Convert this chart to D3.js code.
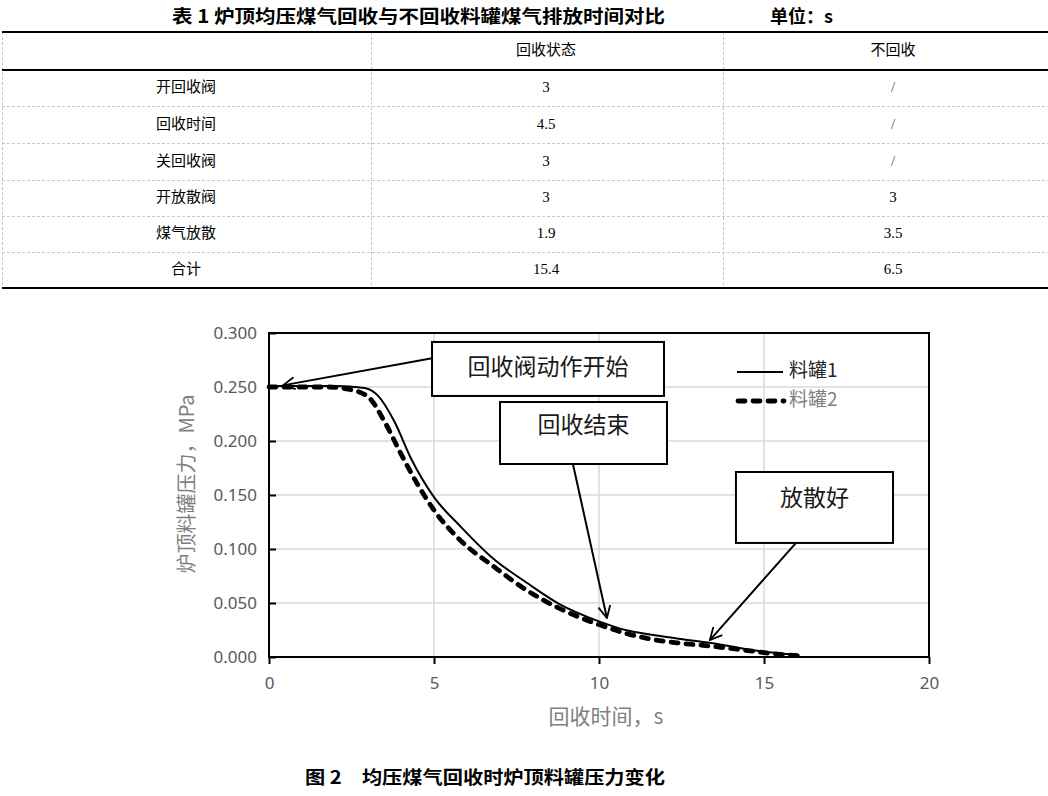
<!DOCTYPE html>
<html><head><meta charset="utf-8">
<script src="https://cdn.jsdelivr.net/npm/d3@7/dist/d3.min.js"></script>
<style>
html,body{margin:0;padding:0;background:#fff;}
svg{display:block;}
</style></head>
<body>
<script>
// ---------- Table data ----------
const tableTitle = "表 1  炉顶均压煤气回收与不回收料罐煤气排放时间对比";
const tableUnit = "单位：s";
const tableHeaders = ["", "回收状态", "不回收"];
const rowLabels = ["开回收阀", "回收时间", "关回收阀", "开放散阀", "煤气放散", "合计"];
const recoverVals = ["3", "4.5", "3", "3", "1.9", "15.4"];
const noRecoverVals = ["/", "/", "/", "3", "3.5", "6.5"];

// ---------- Chart data ----------
const xTicks = [0, 5, 10, 15, 20];
const yTicks = [0, 0.05, 0.1, 0.15, 0.2, 0.25, 0.3];
const seriesNames = ["料罐1", "料罐2"];
const t1 = [0, 1, 2, 2.6, 2.9, 3.3, 3.8, 4.3, 5.0, 5.8, 6.8, 7.8, 8.8, 10.0, 10.8, 11.5, 12.4, 13.4, 14.5, 15.3, 16.0];
const p1 = [0.251, 0.251, 0.251, 0.250, 0.249, 0.242, 0.218, 0.184, 0.148, 0.121, 0.091, 0.069, 0.049, 0.033, 0.025, 0.021, 0.017, 0.013, 0.007, 0.004, 0.002];
const t2 = [0, 1, 1.8, 2.4, 3.0, 3.5, 4.0, 4.5, 5.0, 5.8, 6.8, 7.8, 8.8, 10.0, 10.8, 11.5, 12.4, 13.4, 14.5, 15.3, 16.1];
const p2 = [0.250, 0.250, 0.250, 0.248, 0.241, 0.218, 0.188, 0.160, 0.136, 0.108, 0.084, 0.062, 0.045, 0.030, 0.022, 0.017, 0.013, 0.010, 0.006, 0.003, 0.001];
// annotations: box in data units [t0, t1, pTop, pBottom], arrow from box edge to target point
const annoTexts = ["回收阀动作开始", "回收结束", "放散好"];
const annoBoxes = [[4.94, 11.97, 0.2917, 0.2417], [7.0, 12.06, 0.2361, 0.1787], [14.15, 18.91, 0.1713, 0.1056]];
const annoFrom = [[4.94, 0.2767], [9.21, 0.1787], [15.97, 0.1056]];
const annoTo = [[0.42, 0.2515], [10.24, 0.0361], [13.36, 0.0157]];
const annoTextP = [0.2670, 0.2130, 0.1457];

const W = 1048, H = 796;
const svg = d3.select("body").append("svg").attr("width", W).attr("height", H);

const cjk = "'Noto Sans CJK SC','Noto Sans',sans-serif";
const serif = "'Liberation Serif','DejaVu Serif',serif";

// ---------- Table ----------
svg.append("text").attr("x", 172).attr("y", 23)
  .attr("font-family", cjk).attr("font-weight", "bold").attr("font-size", 18)
  .attr("textLength", 493).attr("lengthAdjust", "spacingAndGlyphs")
  .attr("fill", "#000").text(tableTitle);
svg.append("text").attr("x", 770).attr("y", 23)
  .attr("font-family", cjk).attr("font-weight", "bold").attr("font-size", 18)
  .attr("fill", "#000").text(tableUnit);

const colX = [2, 371, 723, 1048];
const colCenter = [186, 546, 893];
const rowTops = [32, 70, 106, 143, 180, 216, 252, 288];

const tg = svg.append("g");
[colX[0], colX[1], colX[2]].forEach(x => {
  tg.append("line").attr("x1", x + 0.5).attr("x2", x + 0.5).attr("y1", 32).attr("y2", 288)
    .attr("stroke", "#c8c8c8").attr("stroke-width", 1).attr("stroke-dasharray", "3,2");
});
rowTops.slice(2, 7).forEach(y => {
  tg.append("line").attr("x1", 2).attr("x2", W).attr("y1", y + 0.5).attr("y2", y + 0.5)
    .attr("stroke", "#c8c8c8").attr("stroke-width", 1).attr("stroke-dasharray", "3,2");
});
[[32, 2], [70, 2], [288, 2]].forEach(([y, w]) => {
  tg.append("line").attr("x1", 2).attr("x2", W).attr("y1", y).attr("y2", y)
    .attr("stroke", "#000").attr("stroke-width", w);
});
tableHeaders.forEach((h, i) => {
  tg.append("text").attr("x", colCenter[i]).attr("y", 51).attr("text-anchor", "middle")
    .attr("dominant-baseline", "middle").attr("font-family", cjk).attr("font-size", 15)
    .attr("fill", "#000").text(h);
});
rowLabels.forEach((lab, r) => {
  const cy = (rowTops[r + 1] + rowTops[r + 2]) / 2;
  tg.append("text").attr("x", colCenter[0]).attr("y", cy).attr("text-anchor", "middle")
    .attr("dominant-baseline", "middle").attr("font-family", cjk).attr("font-size", 15)
    .attr("fill", "#000").text(lab);
  tg.append("text").attr("x", colCenter[1]).attr("y", cy + 1).attr("text-anchor", "middle")
    .attr("dominant-baseline", "middle").attr("font-family", serif).attr("font-size", 15)
    .attr("fill", "#000").text(recoverVals[r]);
  tg.append("text").attr("x", colCenter[2]).attr("y", cy + 1).attr("text-anchor", "middle")
    .attr("dominant-baseline", "middle").attr("font-family", serif).attr("font-size", 15)
    .attr("fill", noRecoverVals[r] === "/" ? "#5a4a8a" : "#000").text(noRecoverVals[r]);
});

// ---------- Chart ----------
const x = d3.scaleLinear().domain([0, 20]).range([269, 929]);
const y = d3.scaleLinear().domain([0, 0.3]).range([657, 333]);

const cg = svg.append("g");
cg.selectAll(".gx").data(xTicks.slice(1, -1)).enter().append("line")
  .attr("x1", d => x(d)).attr("x2", d => x(d)).attr("y1", y(0)).attr("y2", y(0.3))
  .attr("stroke", "#d9d9d9").attr("stroke-width", 1.5);
cg.selectAll(".gy").data(yTicks.slice(1, -1)).enter().append("line")
  .attr("x1", x(0)).attr("x2", x(20)).attr("y1", d => y(d)).attr("y2", d => y(d))
  .attr("stroke", "#d9d9d9").attr("stroke-width", 1.5);

const xAxis = d3.axisBottom(x).tickValues(xTicks).tickSize(7).tickFormat(d3.format("d"));
const xg = cg.append("g").attr("transform", `translate(0,${y(0)})`).call(xAxis);
xg.select(".domain").remove();
xg.selectAll(".tick line").attr("stroke", "#000").attr("stroke-width", 2);
xg.selectAll(".tick text").attr("font-family", "'Noto Sans',sans-serif").attr("font-size", 17)
  .attr("fill", "#595959").attr("dy", "0").attr("y", 32);

const yAxis = d3.axisLeft(y).tickValues(yTicks).tickSize(-7).tickFormat(d3.format(".3f"));
const yg = cg.append("g").attr("transform", `translate(${x(0)},0)`).call(yAxis);
yg.select(".domain").remove();
yg.selectAll(".tick line").attr("stroke", "#000").attr("stroke-width", 2);
yg.selectAll(".tick text").attr("font-family", "'Noto Sans',sans-serif").attr("font-size", 17)
  .attr("fill", "#595959").attr("x", -12);

cg.append("rect").attr("x", x(0)).attr("y", y(0.3)).attr("width", x(20) - x(0)).attr("height", y(0) - y(0.3))
  .attr("fill", "none").attr("stroke", "#000").attr("stroke-width", 2);

cg.append("text").attr("x", 606).attr("y", 718).attr("text-anchor", "middle").attr("dominant-baseline", "middle")
  .attr("font-family", cjk).attr("font-size", 21).attr("fill", "#7f7f7f").text("回收时间，s");
cg.append("text").attr("transform", "translate(189,484) rotate(-90)").attr("text-anchor", "middle")
  .attr("dominant-baseline", "middle").attr("font-family", cjk).attr("font-size", 20)
  .attr("fill", "#7f7f7f").text("炉顶料罐压力，MPa");

const line = d3.line().x(d => x(d[0])).y(d => y(d[1])).curve(d3.curveMonotoneX);
const d1 = t1.map((t, i) => [t, p1[i]]);
const d2 = t2.map((t, i) => [t, p2[i]]);
cg.append("path").attr("d", line(d1)).attr("fill", "none").attr("stroke", "#000").attr("stroke-width", 2);
cg.append("path").attr("d", line(d2)).attr("fill", "none").attr("stroke", "#000").attr("stroke-width", 4.8)
  .attr("stroke-dasharray", "7,8").attr("stroke-linecap", "round");

const lg = cg.append("g");
lg.append("line").attr("x1", 737).attr("x2", 783).attr("y1", 372).attr("y2", 372).attr("stroke", "#000").attr("stroke-width", 2);
lg.append("line").attr("x1", 738).attr("x2", 784).attr("y1", 401).attr("y2", 401).attr("stroke", "#000").attr("stroke-width", 4.8)
  .attr("stroke-dasharray", "7,8").attr("stroke-linecap", "round");
lg.append("text").attr("x", 789).attr("y", 372).attr("dominant-baseline", "middle").attr("font-family", cjk)
  .attr("font-size", 19).attr("fill", "#262626").text(seriesNames[0]);
lg.append("text").attr("x", 789).attr("y", 401).attr("dominant-baseline", "middle").attr("font-family", cjk)
  .attr("font-size", 19).attr("fill", "#808080").text(seriesNames[1]);

svg.append("defs").append("marker").attr("id", "arr").attr("viewBox", "0 0 14 14")
  .attr("refX", 13).attr("refY", 7).attr("markerWidth", 14).attr("markerHeight", 14)
  .attr("markerUnits", "userSpaceOnUse").attr("orient", "auto")
  .append("path").attr("d", "M1,1 L13,7 L1,13").attr("fill", "none").attr("stroke", "#000").attr("stroke-width", 1.8);

annoTexts.forEach((txt, i) => {
  const b = annoBoxes[i];
  cg.append("line").attr("x1", x(annoFrom[i][0])).attr("y1", y(annoFrom[i][1]))
    .attr("x2", x(annoTo[i][0])).attr("y2", y(annoTo[i][1]))
    .attr("stroke", "#000").attr("stroke-width", 2).attr("marker-end", "url(#arr)");
  cg.append("rect").attr("x", x(b[0])).attr("y", y(b[2])).attr("width", x(b[1]) - x(b[0]))
    .attr("height", y(b[3]) - y(b[2])).attr("fill", "#fff").attr("stroke", "#000").attr("stroke-width", 2);
  cg.append("text").attr("x", (x(b[0]) + x(b[1])) / 2).attr("y", y(annoTextP[i]))
    .attr("text-anchor", "middle").attr("dominant-baseline", "middle")
    .attr("font-family", cjk).attr("font-size", 23).attr("fill", "#1a1a1a").text(txt);
});

svg.append("text").attr("x", 305).attr("y", 784)
  .attr("font-family", cjk).attr("font-weight", "bold").attr("font-size", 18)
  .attr("textLength", 360).attr("lengthAdjust", "spacingAndGlyphs")
  .attr("fill", "#000").text("图 2　均压煤气回收时炉顶料罐压力变化");
</script>
</body></html>
